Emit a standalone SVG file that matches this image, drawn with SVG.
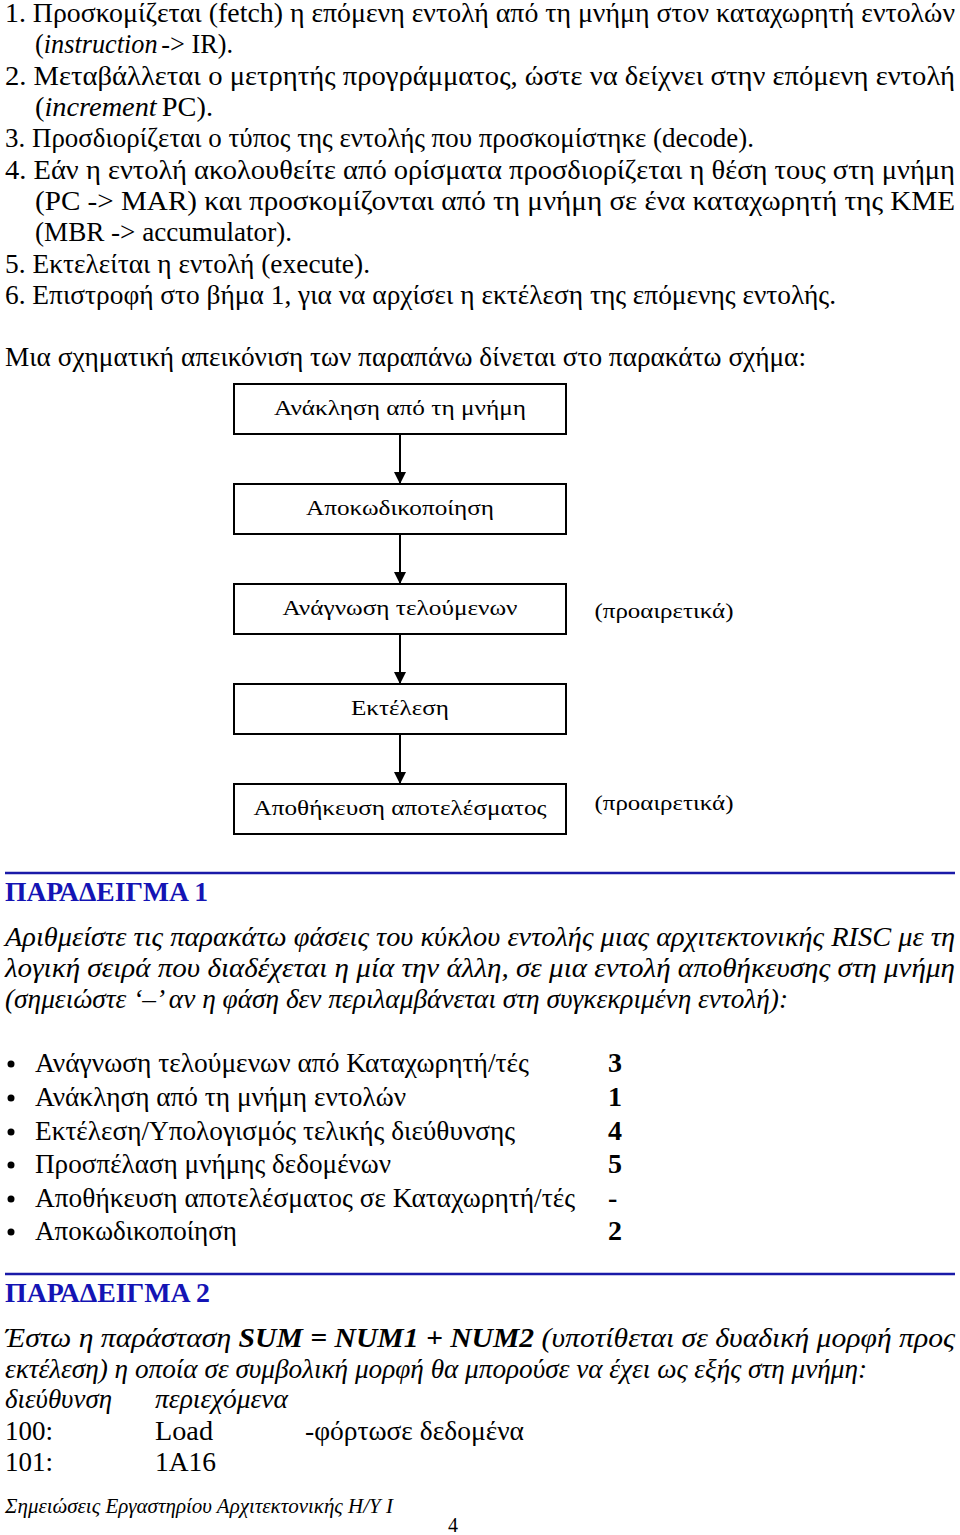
<svg xmlns="http://www.w3.org/2000/svg" width="960" height="1535" viewBox="0 0 960 1535">
<style>
.t{font-family:"Liberation Serif","Times New Roman",serif;font-size:28px;fill:#000}
.i{font-style:italic}
.b{font-weight:bold}
.h{font-family:"Liberation Serif","Times New Roman",serif;font-size:28px;font-weight:bold;fill:#1414b4}
.n{font-family:"Liberation Serif","Times New Roman",serif;font-size:22px;fill:#000;text-anchor:middle}
.box{fill:#fff;stroke:#000;stroke-width:2}
.conn{stroke:#000;stroke-width:2;fill:none}
.rule{stroke:#1a1aa8;stroke-width:2.5}
.f{font-family:"Liberation Serif","Times New Roman",serif;font-size:20px;fill:#000}
</style>
<defs>
<marker id="arr" viewBox="0 0 12 12" refX="12" refY="6" markerWidth="12" markerHeight="14" markerUnits="userSpaceOnUse" orient="auto">
<path d="M0,0 L12,6 L0,12 z" fill="#000"/>
</marker>
</defs>
<rect width="960" height="1535" fill="#fff"/>

<g id="intro">
<text class="t" x="5" y="22" textLength="950" lengthAdjust="spacingAndGlyphs">1. Προσκομίζεται (fetch) η επόμενη εντολή από τη μνήμη στον καταχωρητή εντολών</text>
<text class="t" x="35" y="53" textLength="198" lengthAdjust="spacingAndGlyphs">(<tspan class="i">instruction</tspan><tspan dx="4">-&gt; IR).</tspan></text>
<text class="t" x="5" y="85" textLength="950" lengthAdjust="spacingAndGlyphs">2. Μεταβάλλεται ο μετρητής προγράμματος, ώστε να δείχνει στην επόμενη εντολή</text>
<text class="t" x="35" y="116" textLength="178" lengthAdjust="spacingAndGlyphs">(<tspan class="i">increment</tspan><tspan dx="5">PC).</tspan></text>
<text class="t" x="5" y="147" textLength="749" lengthAdjust="spacingAndGlyphs">3. Προσδιορίζεται ο τύπος της εντολής που προσκομίστηκε (decode).</text>
<text class="t" x="5" y="179" textLength="950" lengthAdjust="spacingAndGlyphs">4. Εάν η εντολή ακολουθείτε από ορίσματα προσδιορίζεται η θέση τους στη μνήμη</text>
<text class="t" x="35" y="210" textLength="920" lengthAdjust="spacingAndGlyphs">(PC -&gt; MAR) και προσκομίζονται από τη μνήμη σε ένα καταχωρητή της ΚΜΕ</text>
<text class="t" x="35" y="241" textLength="257" lengthAdjust="spacingAndGlyphs">(MBR -&gt; accumulator).</text>
<text class="t" x="5" y="273" textLength="365" lengthAdjust="spacingAndGlyphs">5. Εκτελείται η εντολή (execute).</text>
<text class="t" x="5" y="304" textLength="831" lengthAdjust="spacingAndGlyphs">6. Επιστροφή στο βήμα 1, για να αρχίσει η εκτέλεση της επόμενης εντολής.</text>
<text class="t" x="5" y="366" textLength="801" lengthAdjust="spacingAndGlyphs">Μια σχηματική απεικόνιση των παραπάνω δίνεται στο παρακάτω σχήμα:</text>
</g>

<g id="connectors">
<line class="conn" x1="400" y1="434" x2="400" y2="484" marker-end="url(#arr)"/>
<line class="conn" x1="400" y1="534" x2="400" y2="584" marker-end="url(#arr)"/>
<line class="conn" x1="400" y1="634" x2="400" y2="684" marker-end="url(#arr)"/>
<line class="conn" x1="400" y1="734" x2="400" y2="784" marker-end="url(#arr)"/>
</g>

<g id="node-fetch">
<rect class="box" x="234" y="384" width="332" height="50"/>
<text class="n" x="400" y="415" textLength="252" lengthAdjust="spacingAndGlyphs">Ανάκληση από τη μνήμη</text>
</g>
<g id="node-decode">
<rect class="box" x="234" y="484" width="332" height="50"/>
<text class="n" x="400" y="515" textLength="188" lengthAdjust="spacingAndGlyphs">Αποκωδικοποίηση</text>
</g>
<g id="node-read">
<rect class="box" x="234" y="584" width="332" height="50"/>
<text class="n" x="400" y="615" textLength="235" lengthAdjust="spacingAndGlyphs">Ανάγνωση τελούμενων</text>
<text class="n" x="664" y="618" textLength="139" lengthAdjust="spacingAndGlyphs">(προαιρετικά)</text>
</g>
<g id="node-exec">
<rect class="box" x="234" y="684" width="332" height="50"/>
<text class="n" x="400" y="715" textLength="98" lengthAdjust="spacingAndGlyphs">Εκτέλεση</text>
</g>
<g id="node-store">
<rect class="box" x="234" y="784" width="332" height="50"/>
<text class="n" x="400" y="815" textLength="293" lengthAdjust="spacingAndGlyphs">Αποθήκευση αποτελέσματος</text>
<text class="n" x="664" y="810" textLength="139" lengthAdjust="spacingAndGlyphs">(προαιρετικά)</text>
</g>

<g id="example1">
<line class="rule" x1="5" y1="873" x2="955" y2="873"/>
<text class="h" x="5" y="901" textLength="203" lengthAdjust="spacingAndGlyphs">ΠΑΡΑΔΕΙΓΜΑ 1</text>
<text class="t i" x="5" y="946" textLength="950" lengthAdjust="spacingAndGlyphs">Αριθμείστε τις παρακάτω φάσεις του κύκλου εντολής μιας αρχιτεκτονικής RISC με τη</text>
<text class="t i" x="5" y="977" textLength="950" lengthAdjust="spacingAndGlyphs">λογική σειρά που διαδέχεται η μία την άλλη, σε μια εντολή αποθήκευσης στη μνήμη</text>
<text class="t i" x="5" y="1008" textLength="783" lengthAdjust="spacingAndGlyphs">(σημειώστε ‘–’ αν η φάση δεν περιλαμβάνεται στη συγκεκριμένη εντολή):</text>
<g fill="#000">
<circle cx="11" cy="1064" r="3.5"/>
<circle cx="11" cy="1098" r="3.5"/>
<circle cx="11" cy="1132" r="3.5"/>
<circle cx="11" cy="1165" r="3.5"/>
<circle cx="11" cy="1199" r="3.5"/>
<circle cx="11" cy="1232" r="3.5"/>
</g>
<text class="t" x="35" y="1072" textLength="494" lengthAdjust="spacingAndGlyphs">Ανάγνωση τελούμενων από Καταχωρητή/τές</text>
<text class="t" x="35" y="1106" textLength="371" lengthAdjust="spacingAndGlyphs">Ανάκληση από τη μνήμη εντολών</text>
<text class="t" x="35" y="1140" textLength="480" lengthAdjust="spacingAndGlyphs">Εκτέλεση/Υπολογισμός τελικής διεύθυνσης</text>
<text class="t" x="35" y="1173" textLength="356" lengthAdjust="spacingAndGlyphs">Προσπέλαση μνήμης δεδομένων</text>
<text class="t" x="35" y="1207" textLength="540" lengthAdjust="spacingAndGlyphs">Αποθήκευση αποτελέσματος σε Καταχωρητή/τές</text>
<text class="t" x="35" y="1240" textLength="202" lengthAdjust="spacingAndGlyphs">Αποκωδικοποίηση</text>
<text class="t b" x="608" y="1072">3</text>
<text class="t b" x="608" y="1106">1</text>
<text class="t b" x="608" y="1140">4</text>
<text class="t b" x="608" y="1173">5</text>
<text class="t b" x="608" y="1207">-</text>
<text class="t b" x="608" y="1240">2</text>
</g>

<g id="example2">
<line class="rule" x1="5" y1="1274" x2="955" y2="1274"/>
<text class="h" x="5" y="1302" textLength="205" lengthAdjust="spacingAndGlyphs">ΠΑΡΑΔΕΙΓΜΑ 2</text>
<text class="t i" x="5" y="1347" textLength="950" lengthAdjust="spacingAndGlyphs">Έστω η παράσταση <tspan class="b">SUM = NUM1 + NUM2</tspan> (υποτίθεται σε δυαδική μορφή προς</text>
<text class="t i" x="5" y="1378" textLength="862" lengthAdjust="spacingAndGlyphs">εκτέλεση) η οποία σε συμβολική μορφή θα μπορούσε να έχει ως εξής στη μνήμη:</text>
<text class="t i" x="5" y="1408" textLength="107" lengthAdjust="spacingAndGlyphs">διεύθυνση</text>
<text class="t i" x="155" y="1408" textLength="133" lengthAdjust="spacingAndGlyphs">περιεχόμενα</text>
<text class="t" x="5" y="1440" textLength="48" lengthAdjust="spacingAndGlyphs">100:</text>
<text class="t" x="155" y="1440" textLength="58" lengthAdjust="spacingAndGlyphs">Load</text>
<text class="t" x="305" y="1440" textLength="219" lengthAdjust="spacingAndGlyphs">-φόρτωσε δεδομένα</text>
<text class="t" x="5" y="1471" textLength="48" lengthAdjust="spacingAndGlyphs">101:</text>
<text class="t" x="155" y="1471" textLength="61" lengthAdjust="spacingAndGlyphs">1A16</text>
</g>

<g id="footer">
<text class="f i" x="5" y="1513" textLength="388" lengthAdjust="spacingAndGlyphs">Σημειώσεις Εργαστηρίου Αρχιτεκτονικής Η/Υ Ι</text>
<text class="f" x="448" y="1532">4</text>
</g>
</svg>
